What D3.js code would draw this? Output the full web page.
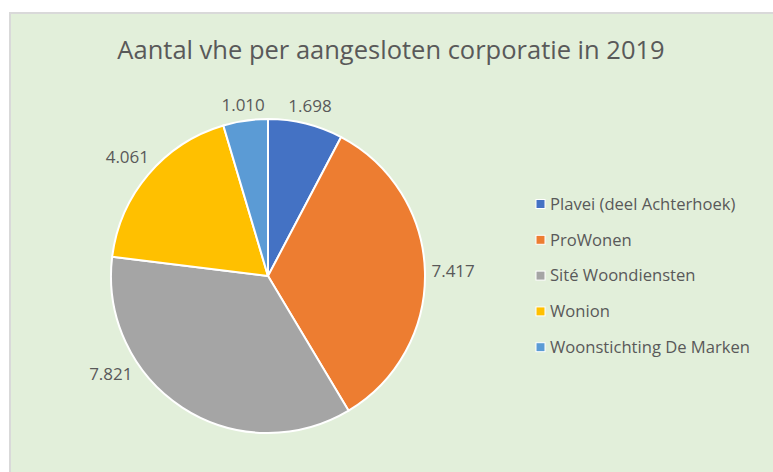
<!DOCTYPE html>
<html lang="nl">
<head>
  <meta charset="UTF-8">
  <title>Aantal vhe per aangesloten corporatie in 2019</title>
  <script src="https://d3js.org/d3.v7.min.js"></script>
  <style>
    body { margin: 0; background: #fff; }
    text { font-family: "Open Sans", sans-serif; fill: #595959; }
  </style>
</head>
<body>
  <svg id="chart" width="773" height="472"></svg>
  <script>
    // data
    const corporaties = ["Plavei (deel Achterhoek)", "ProWonen", "Sité Woondiensten", "Wonion", "Woonstichting De Marken"];
    const vhe = [1698, 7417, 7821, 4061, 1010];
    const kleuren = ["#4472C4", "#ED7D31", "#A5A5A5", "#FFC000", "#5B9BD5"];

    const width = 773, height = 472;
    const svg = d3.select("#chart");

    // chart area with light border
    svg.append("rect")
      .attr("x", 10).attr("y", 13)
      .attr("width", width + 10).attr("height", height)
      .attr("fill", "#E2EFDA")
      .attr("stroke", "#D9D9D9")
      .attr("stroke-width", 2);

    svg.append("text")
      .attr("x", 391).attr("y", 59)
      .attr("text-anchor", "middle")
      .style("font-size", "25.5px")
      .text("Aantal vhe per aangesloten corporatie in 2019");

    const cx = 268, cy = 276, r = 157;
    const data = corporaties.map((name, i) => ({ name, value: vhe[i], color: kleuren[i] }));

    const pie = d3.pie().value(d => d.value).sort(null);
    const arcs = pie(data);
    const arc = d3.arc().innerRadius(0).outerRadius(r);

    const g = svg.append("g").attr("transform", `translate(${cx},${cy})`);

    g.selectAll("path")
      .data(arcs)
      .join("path")
      .attr("d", arc)
      .attr("fill", d => d.data.color)
      .attr("stroke", "#fff")
      .attr("stroke-width", 2)
      .attr("stroke-linejoin", "round");

    // outside end labels, kept inside the plot area
    const fmt = v => d3.format(",")(v).replace(",", ".");
    const labelW = 44, labelH = 14, gap = 6;
    const maxY = r * 0.63;
    g.selectAll("text.lbl")
      .data(arcs)
      .join("text")
      .attr("class", "lbl")
      .attr("text-anchor", "middle")
      .attr("dy", "0.35em")
      .style("font-size", "17px")
      .attr("transform", d => {
        let a = (d.startAngle + d.endAngle) / 2;
        const dist = a2 => r + gap + Math.abs(Math.sin(a2)) * labelW / 2 + Math.abs(Math.cos(a2)) * labelH / 2;
        let y = -Math.cos(a) * dist(a);
        // slide along the circle while the label would fall below the plot area
        let step = 0;
        while (y > maxY && step < 200) {
          a += (Math.sin(a) < 0 ? 1 : -1) * 0.005;
          y = -Math.cos(a) * dist(a);
          step++;
        }
        const x = Math.sin(a) * dist(a);
        return `translate(${x},${y})`;
      })
      .text(d => fmt(d.data.value));

    // legend
    const legend = svg.append("g").attr("transform", "translate(536,204)");
    const item = legend.selectAll("g")
      .data(data)
      .join("g")
      .attr("transform", (d, i) => `translate(0,${i * 35.8})`);

    item.append("rect")
      .attr("x", 0).attr("y", -4.5)
      .attr("width", 9).attr("height", 9)
      .attr("fill", d => d.color)
      .attr("stroke", "#fff")
      .attr("stroke-width", 1);

    item.append("text")
      .attr("x", 14)
      .attr("dy", "0.35em")
      .style("font-size", "16.6px")
      .text(d => d.name);
  </script>
</body>
</html>
